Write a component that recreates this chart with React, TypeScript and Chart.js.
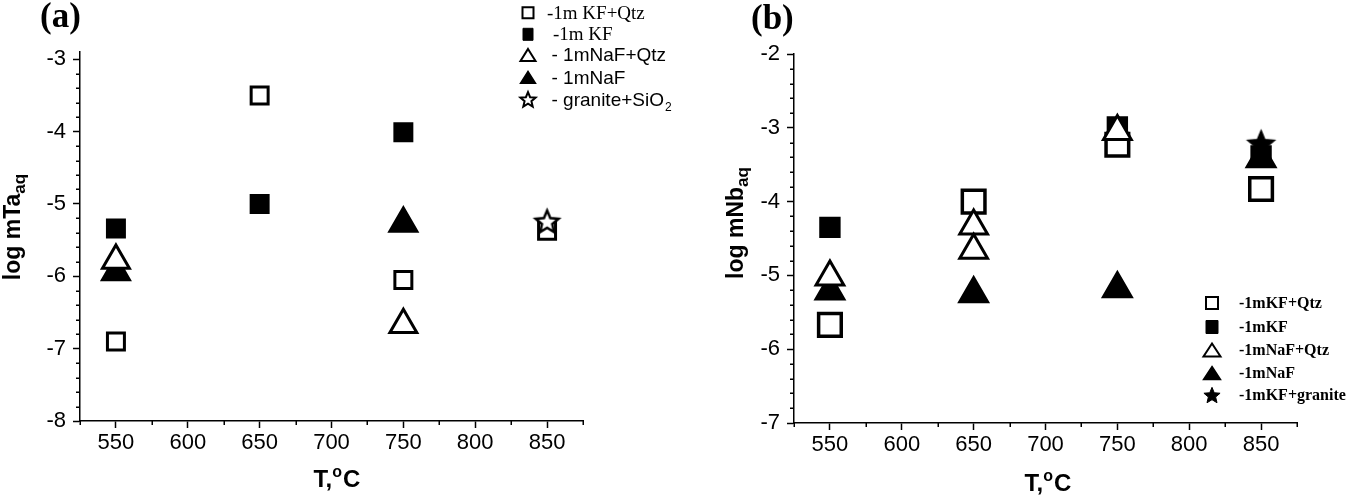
import React, { useEffect, useRef } from 'react';
import { Chart, registerables } from 'chart.js';

Chart.register(...registerables);

// ---------------- data ----------------
const xMajorTicks = [550, 600, 650, 700, 750, 800, 850];
const xMinorTicks = [525, 575, 625, 675, 725, 775, 825, 875];
const yMajorTicksA = [-8, -7, -6, -5, -4, -3];
const yMajorTicksB = [-7, -6, -5, -4, -3, -2];

// Panel (a): log mTa(aq)
const taKfQtzT = [550, 650, 750, 850];
const taKfQtz = [-6.9, -3.5, -6.05, -5.37];
const taKfT = [550, 650, 750];
const taKf = [-5.34, -5.0, -4.01];
const taNafQtzT = [550, 750];
const taNafQtz = [-5.78, -6.67];
const taNafT = [550, 750];
const taNaf = [-5.94, -5.27];
const taGraniteT = [850];
const taGranite = [-5.24];

// Panel (b): log mNb(aq)
const nbKfQtzT = [550, 650, 750, 850];
const nbKfQtz = [-5.67, -4.0, -3.23, -3.83];
const nbKfT = [550, 750, 850];
const nbKf = [-4.35, -2.99, -3.38];
const nbNafQtzT = [550, 650, 650, 750];
const nbNafQtz = [-5.02, -4.33, -4.66, -3.05];
const nbNafT = [550, 650, 750, 850];
const nbNaf = [-5.21, -5.25, -5.18, -3.42];
const nbGraniteT = [850];
const nbGranite = [-3.21];

const legendLabelsA = ['-1m KF+Qtz', '-1m KF', '- 1mNaF+Qtz', '- 1mNaF', '- granite+SiO'];
const legendLabelsB = ['-1mKF+Qtz', '-1mKF', '-1mNaF+Qtz', '-1mNaF', '-1mKF+granite'];

// ---------------- helpers ----------------
const SANS = '"Liberation Sans", Arial, sans-serif';
const SERIF = '"Liberation Serif", "Times New Roman", serif';

const pts = (xs: number[], ys: number[]) => xs.map((x, i) => ({ x, y: ys[i] }));

function starPath(ctx: CanvasRenderingContext2D, cx: number, cy: number, R: number, r: number) {
  ctx.beginPath();
  for (let i = 0; i < 10; i++) {
    const a = -Math.PI / 2 + (i * Math.PI) / 5;
    const rad = i % 2 === 0 ? R : r;
    const px = cx + Math.cos(a) * rad;
    const py = cy + Math.sin(a) * rad;
    if (i === 0) ctx.moveTo(px, py);
    else ctx.lineTo(px, py);
  }
  ctx.closePath();
}

function makeStar(R: number, ratio: number, filled: boolean, lw: number) {
  const pad = lw + 2;
  const size = Math.ceil(2 * R + 2 * pad);
  const c = document.createElement('canvas');
  c.width = size;
  c.height = size;
  const ctx = c.getContext('2d') as CanvasRenderingContext2D;
  starPath(ctx, size / 2, size / 2 + R * 0.095, R, R * ratio);
  ctx.fillStyle = filled ? '#000' : '#fff';
  ctx.fill();
  ctx.lineWidth = lw;
  ctx.lineJoin = 'miter';
  ctx.strokeStyle = '#000';
  ctx.stroke();
  return c;
}

type Shape = 'rect' | 'triangle' | 'star';

function drawShape(
  ctx: CanvasRenderingContext2D,
  shape: Shape,
  cx: number,
  cy: number,
  w: number,
  h: number,
  filled: boolean,
  lw: number
) {
  ctx.save();
  ctx.lineWidth = lw;
  ctx.strokeStyle = '#000';
  ctx.fillStyle = filled ? '#000' : '#fff';
  ctx.lineJoin = 'miter';
  if (shape === 'rect') {
    ctx.beginPath();
    ctx.rect(cx - w / 2, cy - h / 2, w, h);
  } else if (shape === 'triangle') {
    ctx.beginPath();
    ctx.moveTo(cx, cy - h / 2);
    ctx.lineTo(cx + w / 2, cy + h / 2);
    ctx.lineTo(cx - w / 2, cy + h / 2);
    ctx.closePath();
  } else {
    starPath(ctx, cx, cy + w * 0.05, w / 2, (w / 2) * 0.45);
  }
  ctx.fill();
  ctx.stroke();
  ctx.restore();
}

type LegendRow = {
  shape: Shape;
  filled: boolean;
  text: string;
  sub?: string;
  font: string;
  subFont?: string;
  sx: number;
  sy: number;
  sw: number;
  sh: number;
  slw: number;
  tx: number;
};

type Deco = {
  label: string;
  labelX: number;
  labelY: number;
  labelFont: string;
  yTitleMain: string;
  yTitleSub: string;
  yTitleX: number;
  yTitleY: number;
  xTitleX: number;
  xTitleY: number;
  legend: LegendRow[];
  yMin: number;
  yMax: number;
};

function decoPlugin(d: Deco) {
  return {
    id: 'deco',
    afterDraw(chart: any) {
      const ctx: CanvasRenderingContext2D = chart.ctx;
      const xs = chart.scales.x;
      const ys = chart.scales.y;
      const area = chart.chartArea;
      ctx.save();
      // minor ticks
      ctx.strokeStyle = '#000';
      ctx.lineWidth = 1.5;
      ctx.beginPath();
      xMinorTicks.forEach((v) => {
        const px = Math.round(xs.getPixelForValue(v)) + 0.25;
        ctx.moveTo(px, area.bottom);
        ctx.lineTo(px, area.bottom + 4);
      });
      for (let k = Math.ceil(d.yMin * 5); k <= Math.floor(d.yMax * 5); k++) {
        if (k % 5 === 0) continue;
        const py = Math.round(ys.getPixelForValue(k / 5)) + 0.25;
        ctx.moveTo(area.left, py);
        ctx.lineTo(area.left - 4, py);
      }
      ctx.stroke();

      ctx.fillStyle = '#000';
      ctx.textBaseline = 'alphabetic';
      ctx.textAlign = 'left';

      // panel label
      ctx.font = d.labelFont;
      ctx.fillText(d.label, d.labelX, d.labelY);

      // y title (rotated, with subscript)
      ctx.save();
      ctx.translate(d.yTitleX, d.yTitleY);
      ctx.rotate(-Math.PI / 2);
      const mainFont = `bold 23px ${SANS}`;
      const subFont = `bold 17px ${SANS}`;
      ctx.font = mainFont;
      const w1 = ctx.measureText(d.yTitleMain).width;
      ctx.font = subFont;
      const w2 = ctx.measureText(d.yTitleSub).width;
      const x0 = -(w1 + w2) / 2;
      ctx.font = mainFont;
      ctx.fillText(d.yTitleMain, x0, 8);
      ctx.font = subFont;
      ctx.fillText(d.yTitleSub, x0 + w1, 13);
      ctx.restore();

      // x title "T,°C" with superscript o
      const tFont = `bold 24px ${SANS}`;
      const oFont = `bold 16px ${SANS}`;
      ctx.font = tFont;
      const a1 = ctx.measureText('T,').width;
      const a3 = ctx.measureText('C').width;
      ctx.font = oFont;
      const a2 = ctx.measureText('o').width;
      let xx = d.xTitleX - (a1 + a2 + a3 + 1) / 2;
      ctx.font = tFont;
      ctx.fillText('T,', xx, d.xTitleY);
      xx += a1;
      ctx.font = oFont;
      ctx.fillText('o', xx, d.xTitleY - 10);
      xx += a2 + 1;
      ctx.font = tFont;
      ctx.fillText('C', xx, d.xTitleY);

      // legend
      d.legend.forEach((row) => {
        drawShape(ctx, row.shape, row.sx, row.sy, row.sw, row.sh, row.filled, row.slw);
        ctx.fillStyle = '#000';
        ctx.font = row.font;
        ctx.textBaseline = 'middle';
        ctx.fillText(row.text, row.tx, row.sy + 1);
        if (row.sub) {
          const tw = ctx.measureText(row.text).width;
          ctx.font = row.subFont || row.font;
          ctx.fillText(row.sub, row.tx + tw + 1, row.sy + 8);
        }
        ctx.textBaseline = 'alphabetic';
      });
      ctx.restore();
    },
  };
}

function makeConfig(
  datasets: any[],
  yMin: number,
  yMax: number,
  yMajor: number[],
  yAxisWidth: number,
  xAxisHeight: number,
  padTop: number,
  padRight: number,
  deco: Deco
): any {
  return {
    type: 'scatter',
    data: { datasets },
    options: {
      responsive: false,
      animation: false,
      events: [],
      layout: { padding: { top: padTop, right: padRight, left: 0, bottom: 0 } },
      plugins: { legend: { display: false }, tooltip: { enabled: false }, title: { display: false } },
      scales: {
        x: {
          type: 'linear',
          min: 525,
          max: 875,
          afterBuildTicks: (s: any) => {
            s.ticks = xMajorTicks.map((v) => ({ value: v }));
          },
          afterFit: (s: any) => {
            s.height = xAxisHeight;
          },
          ticks: {
            autoSkip: false,
            maxRotation: 0,
            padding: 2,
            color: '#000',
            font: { family: SANS, size: 22 },
            callback: (v: number) => String(v),
          },
          grid: {
            drawOnChartArea: false,
            drawTicks: true,
            tickLength: 7,
            tickColor: '#000',
            tickWidth: 1.5,
          },
          border: { display: true, color: '#000', width: 1.5 },
        },
        y: {
          type: 'linear',
          min: yMin,
          max: yMax,
          afterBuildTicks: (s: any) => {
            s.ticks = yMajor.map((v) => ({ value: v }));
          },
          afterFit: (s: any) => {
            s.width = yAxisWidth;
          },
          ticks: {
            autoSkip: false,
            padding: 7,
            color: '#000',
            font: { family: SANS, size: 22 },
            callback: (v: number) => String(v),
          },
          grid: {
            drawOnChartArea: false,
            drawTicks: true,
            tickLength: 7,
            tickColor: '#000',
            tickWidth: 1.5,
          },
          border: { display: true, color: '#000', width: 1.5 },
        },
      },
    },
    plugins: [decoPlugin(deco)],
  };
}

function buildA() {
  const star = makeStar(12, 0.45, false, 2.5);
  const datasets = [
    { label: '-1m KF+Qtz', data: pts(taKfQtzT, taKfQtz), pointStyle: 'rect', pointRadius: 12, backgroundColor: '#fff', borderColor: '#000', borderWidth: 3, order: 4 },
    { label: '-1m KF', data: pts(taKfT, taKf), pointStyle: 'rect', pointRadius: 12, backgroundColor: '#000', borderColor: '#000', borderWidth: 3, order: 3 },
    { label: '- 1mNaF+Qtz', data: pts(taNafQtzT, taNafQtz), pointStyle: 'triangle', pointRadius: 15.5, backgroundColor: '#fff', borderColor: '#000', borderWidth: 3, order: 1 },
    { label: '- 1mNaF', data: pts(taNafT, taNaf), pointStyle: 'triangle', pointRadius: 15.5, backgroundColor: '#000', borderColor: '#000', borderWidth: 3, order: 2 },
    { label: '- granite+SiO2', data: pts(taGraniteT, taGranite), pointStyle: star, pointRadius: 12, backgroundColor: '#fff', borderColor: '#000', borderWidth: 2, order: 0 },
  ];
  const fSerif = `19px ${SERIF}`;
  const fSans = `19px ${SANS}`;
  const legend: LegendRow[] = [
    { shape: 'rect', filled: false, text: legendLabelsA[0], font: fSerif, sx: 528, sy: 12.7, sw: 11, sh: 11, slw: 2, tx: 547 },
    { shape: 'rect', filled: true, text: legendLabelsA[1], font: fSerif, sx: 528, sy: 34.3, sw: 10, sh: 12, slw: 1, tx: 553 },
    { shape: 'triangle', filled: false, text: legendLabelsA[2], font: fSans, sx: 528, sy: 55, sw: 15, sh: 12, slw: 2, tx: 551.5 },
    { shape: 'triangle', filled: true, text: legendLabelsA[3], font: fSans, sx: 528, sy: 77.3, sw: 15, sh: 12, slw: 1.5, tx: 551.5 },
    { shape: 'star', filled: false, text: legendLabelsA[4], sub: '2', font: fSans, subFont: `12px ${SANS}`, sx: 528, sy: 99.3, sw: 16, sh: 16, slw: 2, tx: 551.5 },
  ];
  const deco: Deco = {
    label: '(a)',
    labelX: 40,
    labelY: 27,
    labelFont: `bold 35px ${SERIF}`,
    yTitleMain: 'log mTa',
    yTitleSub: 'aq',
    yTitleX: 12,
    yTitleY: 227,
    xTitleX: 337,
    xTitleY: 487,
    legend,
    yMin: -8,
    yMax: -2.9,
  };
  return makeConfig(datasets, -8, -2.9, yMajorTicksA, 80, 79, 52, 96, deco);
}

function buildB() {
  const star = makeStar(14, 0.45, true, 1.5);
  const datasets = [
    { label: '-1mKF+Qtz', data: pts(nbKfQtzT, nbKfQtz), pointStyle: 'rect', pointRadius: 16, backgroundColor: '#fff', borderColor: '#000', borderWidth: 3.5, order: 4 },
    { label: '-1mKF', data: pts(nbKfT, nbKf), pointStyle: 'rect', pointRadius: 13, backgroundColor: '#000', borderColor: '#000', borderWidth: 3, order: 3 },
    { label: '-1mNaF+Qtz', data: pts(nbNafQtzT, nbNafQtz), pointStyle: 'triangle', pointRadius: 16, backgroundColor: '#fff', borderColor: '#000', borderWidth: 3, order: 1 },
    { label: '-1mNaF', data: pts(nbNafT, nbNaf), pointStyle: 'triangle', pointRadius: 16, backgroundColor: '#000', borderColor: '#000', borderWidth: 3, order: 2 },
    { label: '-1mKF+granite', data: pts(nbGraniteT, nbGranite), pointStyle: star, pointRadius: 14, backgroundColor: '#000', borderColor: '#000', borderWidth: 1, order: 0 },
  ];
  const f = `bold 16px ${SERIF}`;
  const sx = 533;
  const tx = 560;
  const legend: LegendRow[] = [
    { shape: 'rect', filled: false, text: legendLabelsB[0], font: f, sx, sy: 303, sw: 12, sh: 12, slw: 2, tx },
    { shape: 'rect', filled: true, text: legendLabelsB[1], font: f, sx, sy: 327, sw: 12, sh: 13, slw: 1, tx },
    { shape: 'triangle', filled: false, text: legendLabelsB[2], font: f, sx, sy: 350, sw: 17, sh: 13, slw: 2, tx },
    { shape: 'triangle', filled: true, text: legendLabelsB[3], font: f, sx, sy: 373, sw: 17, sh: 13, slw: 1.5, tx },
    { shape: 'star', filled: true, text: legendLabelsB[4], font: f, sx, sy: 395, sw: 17, sh: 17, slw: 1, tx },
  ];
  const deco: Deco = {
    label: '(b)',
    labelX: 72,
    labelY: 29,
    labelFont: `bold 35px ${SERIF}`,
    yTitleMain: 'log mNb',
    yTitleSub: 'aq',
    yTitleX: 56,
    yTitleY: 223,
    xTitleX: 369,
    xTitleY: 491,
    legend,
    yMin: -7,
    yMax: -2,
  };
  return makeConfig(datasets, -7, -2, yMajorTicksB, 115, 77, 54, 61, deco);
}

function Panel({ left, build }: { left: number; build: () => any }) {
  const ref = useRef<HTMLCanvasElement | null>(null);
  useEffect(() => {
    if (!ref.current) return;
    const chart = new Chart(ref.current, build());
    return () => chart.destroy();
  }, []);
  return (
    <canvas
      ref={ref}
      width={679}
      height={500}
      style={{ position: 'absolute', left, top: 0, width: 679, height: 500 }}
    />
  );
}

export default function App() {
  return (
    <div
      style={{
        position: 'absolute',
        left: 0,
        top: 0,
        width: 1358,
        height: 500,
        background: '#fff',
        overflow: 'hidden',
      }}
    >
      <Panel left={0} build={buildA} />
      <Panel left={679} build={buildB} />
    </div>
  );
}
